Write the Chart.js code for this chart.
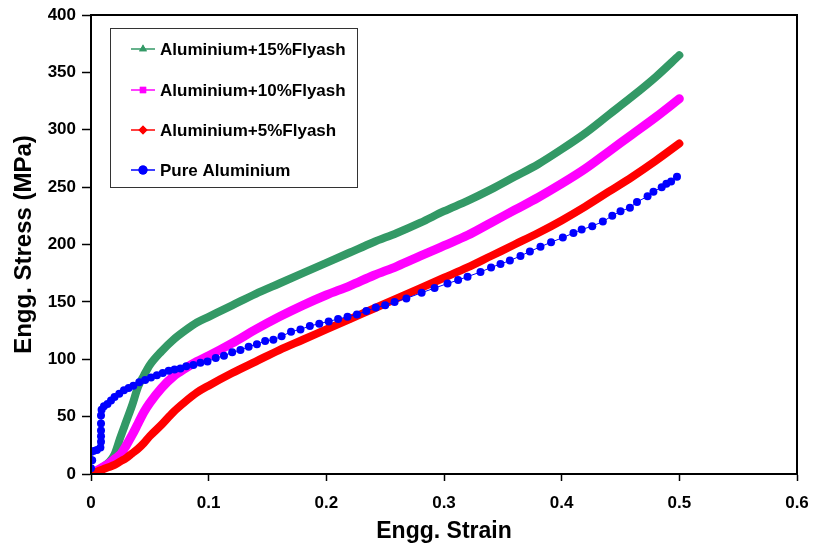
<!DOCTYPE html>
<html>
<head>
<meta charset="utf-8">
<script src="https://cdn.jsdelivr.net/npm/chart.js@4.4.1/dist/chart.umd.min.js"></script>
<style>
  html, body { margin: 0; padding: 0; background: #fff; }
  #wrap { width: 814px; height: 550px; }
</style>
</head>
<body>
<div id="wrap"><canvas id="stressChart" width="814" height="550"></canvas></div>
<script>
// ── Data (strain, MPa) ──
const seriesNames = ['Aluminium+15%Flyash', 'Aluminium+10%Flyash', 'Aluminium+5%Flyash', 'Pure Aluminium'];

const strainComp = [0, 0.005, 0.01, 0.015, 0.02, 0.025, 0.03, 0.035, 0.04, 0.045, 0.05, 0.06, 0.07, 0.08, 0.09,
    0.1, 0.12, 0.14, 0.16, 0.18, 0.2, 0.22, 0.24, 0.26, 0.28, 0.3, 0.32, 0.34, 0.36, 0.38, 0.4, 0.42, 0.44, 0.46, 0.48, 0.5];
const stress15 = [0, 3, 6, 10, 17, 32, 46, 60, 76, 86, 95, 107, 117, 125, 132,
    137, 147, 157, 166, 175, 184, 193, 202, 210, 219, 229, 238, 248, 259, 270, 283, 297, 313, 329, 346, 365];
const stress10 = [0, 3, 6, 9, 13, 17, 25, 34, 44, 54, 62, 75, 85, 92, 98,
    103, 114, 126, 137, 147, 156, 164, 173, 181, 190, 199, 208, 219, 230, 241, 253, 266, 281, 296, 311, 327];
const stress5 = [0, 2, 4, 6, 8, 11, 14, 18, 22, 27, 33, 43, 54, 63, 71,
    77, 88, 98, 108, 117, 126, 135, 144, 153, 162, 171, 180, 190, 200, 210, 221, 233, 246, 259, 273, 288];

const strainPure = [0, 0.001, 0.002, 0.005, 0.008, 0.0085, 0.0085, 0.0085, 0.0085, 0.0085, 0.009, 0.011, 0.014, 0.017,
    0.02, 0.024, 0.028, 0.032, 0.036, 0.041, 0.046, 0.051, 0.056, 0.061, 0.066, 0.071, 0.076, 0.081, 0.087, 0.093,
    0.099, 0.106, 0.113, 0.12, 0.127, 0.134, 0.141, 0.148, 0.155, 0.162, 0.17, 0.178, 0.186, 0.194, 0.202, 0.21,
    0.218, 0.226, 0.234, 0.242, 0.25, 0.258, 0.268, 0.281, 0.292, 0.303, 0.312, 0.32, 0.331, 0.34, 0.348, 0.356,
    0.365, 0.373, 0.382, 0.391, 0.401, 0.41, 0.417, 0.426, 0.435, 0.443, 0.45, 0.458, 0.464, 0.473, 0.478, 0.485,
    0.489, 0.493, 0.498];
const stressPure = [5, 12, 20, 21, 23, 28, 33, 38, 44, 51, 56, 59, 61, 64,
    67, 70, 73, 75, 77, 80, 82, 84, 86, 88, 90, 91, 92, 94, 95, 97,
    98, 101, 103, 106, 108, 111, 113, 116, 117, 120, 124, 126, 129, 131, 133, 135,
    137, 139, 142, 145, 147, 150, 153, 158, 162, 166, 169, 172, 176, 180, 183, 186,
    190, 194, 198, 202, 206, 210, 213, 216, 220, 225, 229, 232, 237, 242, 246, 250,
    253, 255, 259];

const xTicks = [0, 0.1, 0.2, 0.3, 0.4, 0.5, 0.6];

const colors = ['#339966', '#ff00ff', '#ff0000', '#0000ff'];
const markers = ['triangle', 'rect', 'rectRot', 'circle'];

const pts = (xs, ys) => xs.map((x, i) => ({ x, y: ys[i] }));
const FONT = "'Liberation Sans', Arial, sans-serif";

// frame on top/right + inset legend box
const framePlugin = {
    id: 'frame',
    afterDraw(chart) {
        const { ctx, chartArea: a } = chart;
        ctx.save();
        ctx.strokeStyle = '#000';
        ctx.lineWidth = 2;
        ctx.strokeRect(a.left, a.top, a.right - a.left, a.bottom - a.top);

        // legend
        ctx.lineWidth = 1;
        ctx.strokeStyle = '#333';
        ctx.fillStyle = '#fff';
        ctx.fillRect(110, 29, 248, 159);
        ctx.strokeRect(110.5, 28.5, 247, 159);
        const rows = [49, 90, 130, 170];
        ctx.font = `bold 17px ${FONT}`;
        ctx.textBaseline = 'middle';
        rows.forEach((ry, i) => {
            ctx.strokeStyle = colors[i];
            ctx.lineWidth = 1.5;
            ctx.beginPath();
            ctx.moveTo(131, ry);
            ctx.lineTo(155, ry);
            ctx.stroke();
            ctx.fillStyle = colors[i];
            Chart.helpers.drawPoint(ctx, { pointStyle: markers[i], radius: 4.5, rotation: 0 }, 143, ry);
            ctx.fill();
            ctx.fillStyle = '#000';
            ctx.fillText(seriesNames[i], 160, ry + 1);
        });
        ctx.restore();
    }
};

const thick = (label, data, color, width) => ({
    label, data,
    borderColor: color, backgroundColor: color,
    borderWidth: width, pointRadius: 0, showLine: true,
    cubicInterpolationMode: 'monotone', borderCapStyle: 'round', borderJoinStyle: 'round'
});

new Chart(document.getElementById('stressChart').getContext('2d'), {
    type: 'scatter',
    data: {
        datasets: [
            // dataset 0 is drawn on top
            { label: seriesNames[3], data: pts(strainPure, stressPure), borderColor: colors[3], backgroundColor: colors[3],
              borderWidth: 1, pointRadius: 4, pointBorderWidth: 0, showLine: true, tension: 0 },
            thick(seriesNames[2], pts(strainComp, stress5), colors[2], 8),
            thick(seriesNames[1], pts(strainComp, stress10), colors[1], 9),
            thick(seriesNames[0], pts(strainComp, stress15), colors[0], 8)
        ]
    },
    options: {
        responsive: false,
        animation: false,
        layout: { padding: { left: 0, top: 15, right: 17, bottom: 0 } },
        plugins: { legend: { display: false }, tooltip: { enabled: false } },
        scales: {
            x: {
                type: 'linear', min: 0, max: 0.6,
                afterFit: s => { s.height = 76; s.paddingLeft = 0; s.paddingRight = 0; },
                afterBuildTicks: s => { s.ticks = xTicks.map(v => ({ value: v })); },
                ticks: { color: '#000', padding: 12, font: { family: FONT, size: 17, weight: 'bold' },
                    callback: v => v === 0 ? '0' : v.toFixed(1) },
                grid: { drawOnChartArea: false, color: '#000', tickLength: 7, tickWidth: 1.5 },
                border: { color: '#000', width: 2 },
                title: { display: true, text: 'Engg. Strain', color: '#000', padding: { bottom: 5 },
                    font: { family: FONT, size: 23, weight: 'bold' } }
            },
            y: {
                min: 0, max: 400,
                afterFit: s => { s.width = 91; s.paddingTop = 0; s.paddingBottom = 0; },
                ticks: { stepSize: 50, color: '#000', padding: 6, font: { family: FONT, size: 17, weight: 'bold' } },
                grid: { drawOnChartArea: false, color: '#000', tickLength: 9, tickWidth: 1.5 },
                border: { color: '#000', width: 2 },
                title: { display: true, text: 'Engg. Stress (MPa)', color: '#000', padding: { top: 10 },
                    font: { family: FONT, size: 24, weight: 'bold' } }
            }
        }
    },
    plugins: [framePlugin]
});
</script>
</body>
</html>
